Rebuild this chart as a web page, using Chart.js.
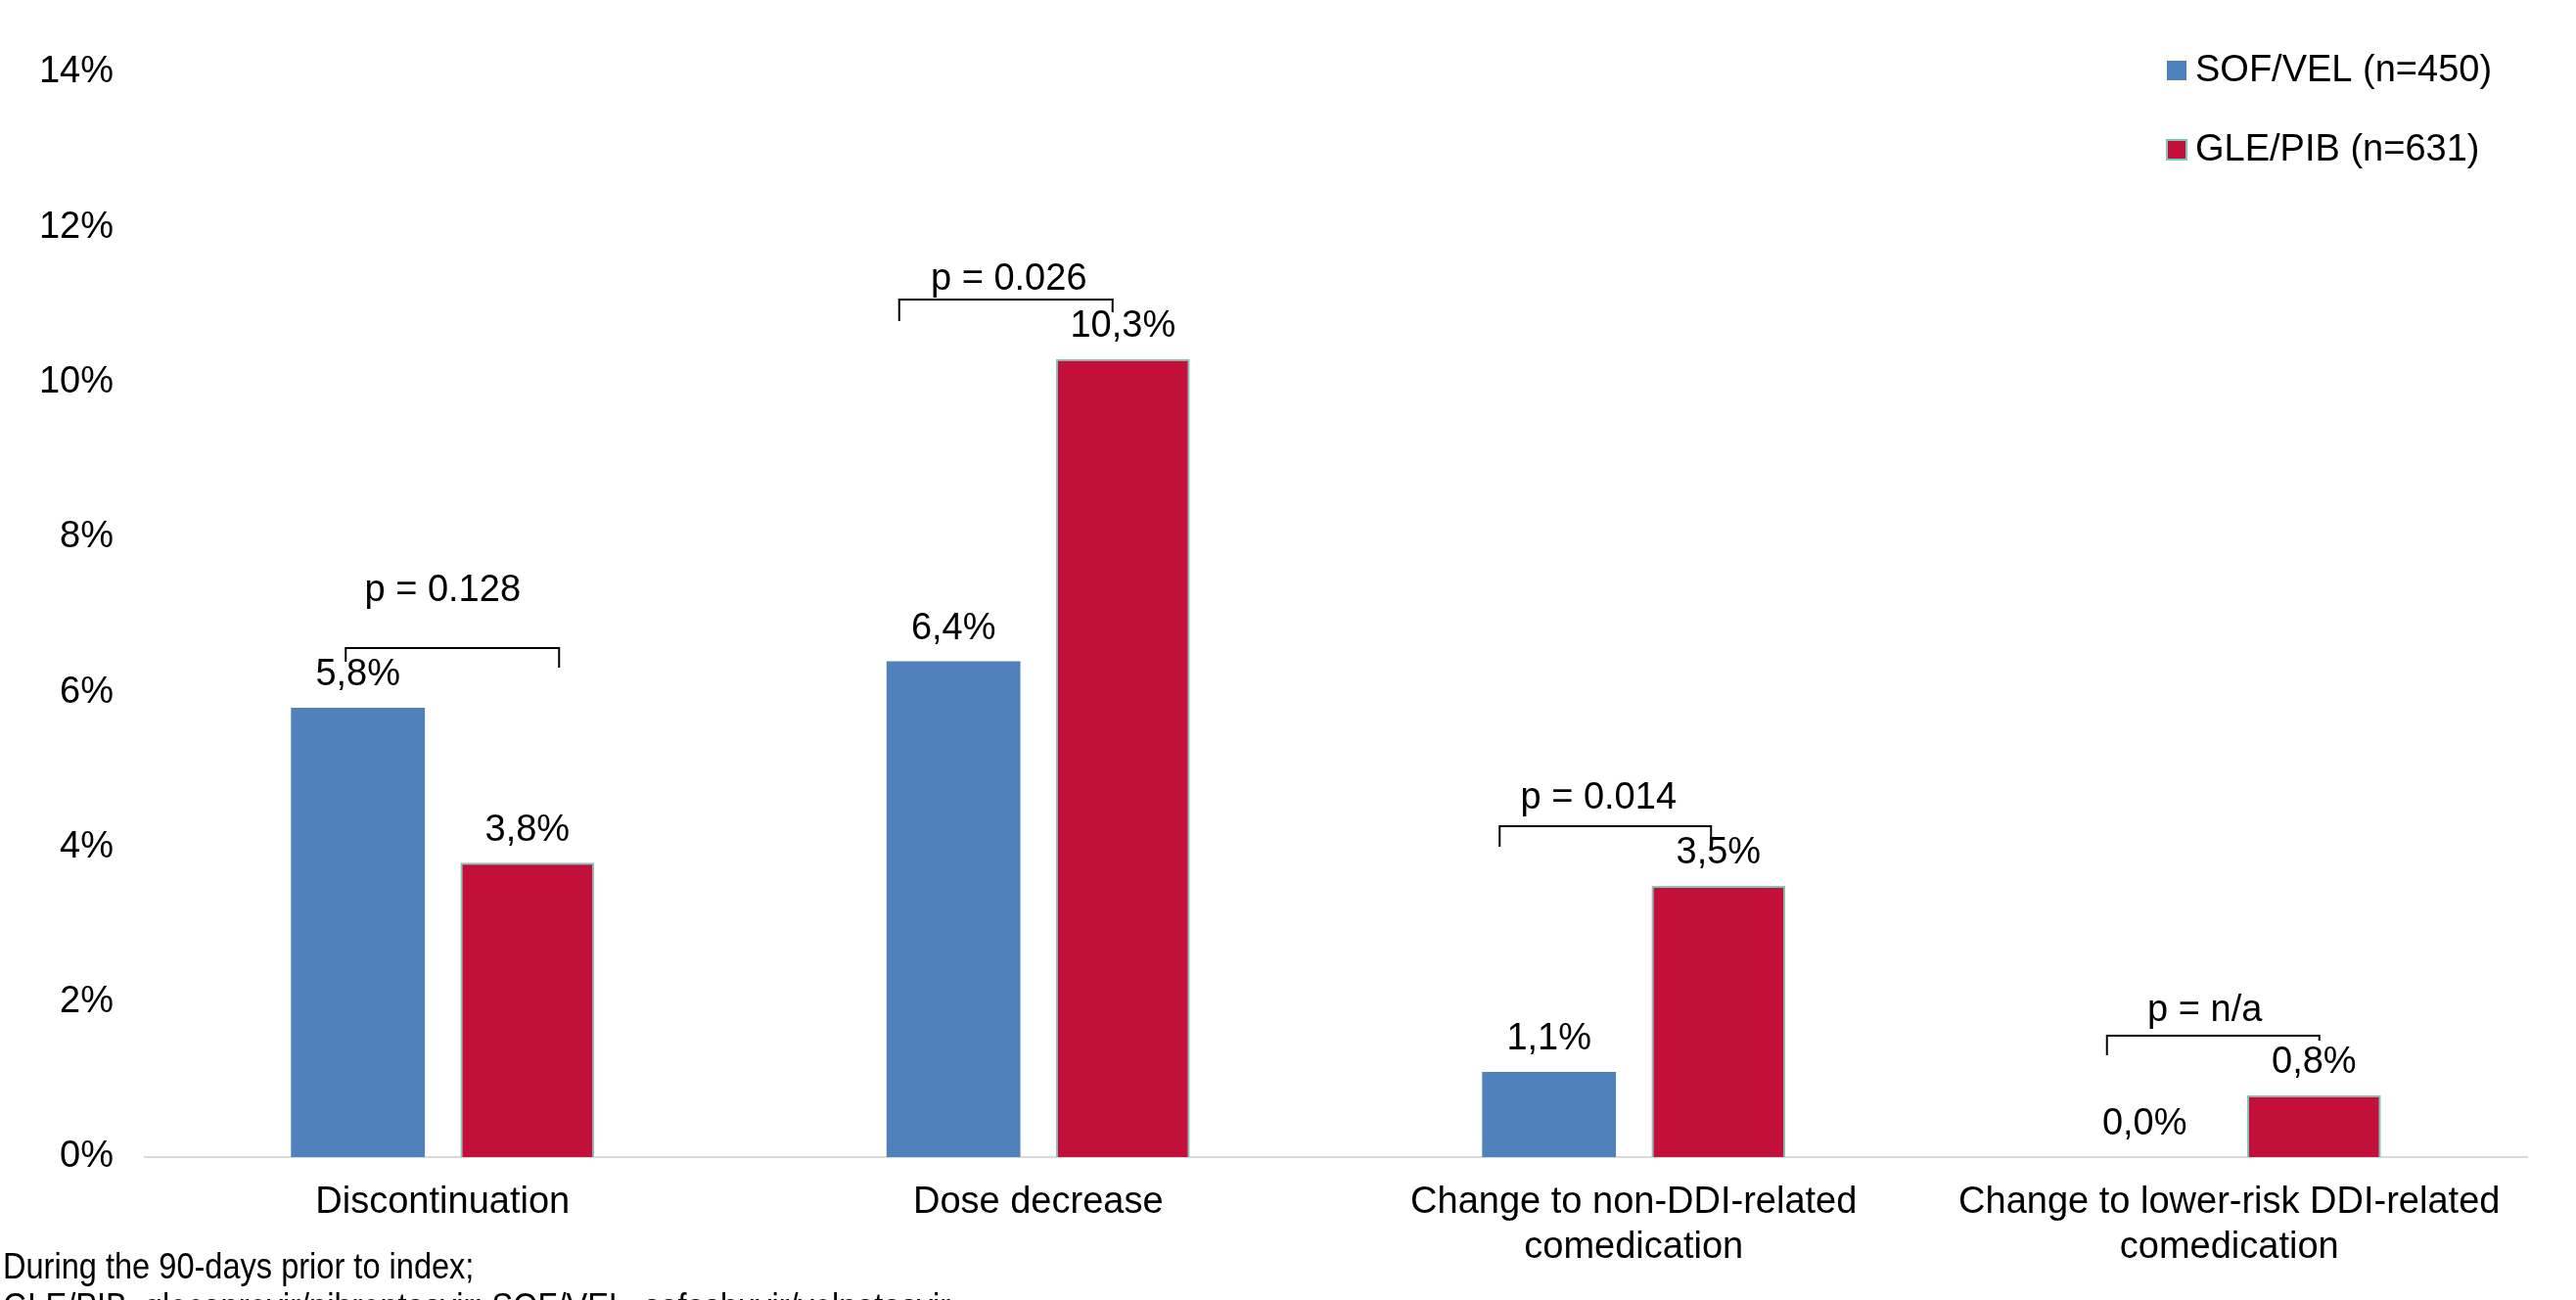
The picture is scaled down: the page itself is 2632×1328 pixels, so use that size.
<!DOCTYPE html>
<html>
<head>
<meta charset="utf-8">
<script src="https://cdn.jsdelivr.net/npm/chart.js@4.4.1/dist/chart.umd.min.js"></script>
<style>
    html, body { margin: 0; padding: 0; background: #fff; overflow: hidden; }
    #wrap { position: relative; width: 2632px; height: 1328px; }
    #footnote {
        position: absolute; left: 3px; top: 1273px;
        font-family: "Liberation Sans", Arial, sans-serif;
        font-size: 37px; line-height: 41px; color: #000;
        transform: scaleX(0.88); transform-origin: left top;
        white-space: nowrap;
    }
</style>
</head>
<body>
<div id="wrap">
    <canvas id="chart" width="2632" height="1328"></canvas>
    <div id="footnote">During the 90-days prior to index;<br>GLE/PIB, glecaprevir/pibrentasvir; SOF/VEL, sofosbuvir/velpatasvir</div>
</div>
<script>
/* ---------- data ---------- */
const categories = [
    ["Discontinuation"],
    ["Dose decrease"],
    ["Change to non-DDI-related", "comedication"],
    ["Change to lower-risk DDI-related", "comedication"]
];
const seriesNames = ["SOF/VEL (n=450)", "GLE/PIB (n=631)"];
const sofVel = [5.8, 6.4, 1.1, 0.0];
const glePib = [3.8, 10.3, 3.5, 0.8];
const pValues = ["p = 0.128", "p = 0.026", "p = 0.014", "p = n/a"];
const yTicks = [0, 2, 4, 6, 8, 10, 12, 14];

/* bracket placement (px, relative to category centre / bracket line) */
const bracketLayout = [
    { left: -99,  right: 119, dropL: 14, dropR: 20, textX: 0,   textUp: 58 },
    { left: -142, right: 76,  dropL: 22, dropR: 13, textX: -30, textUp: 20 },
    { left: -137, right: 79,  dropL: 21, dropR: 15, textX: -36, textUp: 28 },
    { left: -125, right: 92,  dropL: 20, dropR: 5,  textX: -25, textUp: 25 }
];

const FONT = '"Liberation Sans", Arial, sans-serif';
Chart.defaults.font.family = FONT;
Chart.defaults.font.size = 38;
Chart.defaults.color = "#000";

function formatPct(v) {
    return v.toFixed(1).replace(".", ",") + "%";
}

const valueLabels = {
    id: "valueLabels",
    afterDatasetsDraw(chart) {
        const ctx = chart.ctx;
        ctx.save();
        ctx.font = "38px " + FONT;
        ctx.fillStyle = "#000";
        ctx.textAlign = "center";
        ctx.textBaseline = "middle";
        chart.data.datasets.forEach((ds, i) => {
            chart.getDatasetMeta(i).data.forEach((bar, j) => {
                ctx.fillText(formatPct(ds.data[j]), bar.x, bar.y - 33);
            });
        });
        ctx.restore();
    }
};

const brackets = {
    id: "brackets",
    afterDatasetsDraw(chart) {
        const ctx = chart.ctx;
        const x = chart.scales.x;
        const y = chart.scales.y;
        ctx.save();
        ctx.strokeStyle = "#000";
        ctx.lineWidth = 2;
        ctx.font = "38px " + FONT;
        ctx.fillStyle = "#000";
        ctx.textAlign = "center";
        ctx.textBaseline = "middle";
        pValues.forEach((txt, i) => {
            const b = bracketLayout[i];
            const cx = x.getPixelForValue(i);
            const top = Math.max(sofVel[i], glePib[i]);
            const ly = Math.round(y.getPixelForValue(top)) - 61;
            ctx.beginPath();
            ctx.moveTo(cx + b.left, ly + b.dropL);
            ctx.lineTo(cx + b.left, ly);
            ctx.lineTo(cx + b.right, ly);
            ctx.lineTo(cx + b.right, ly + b.dropR);
            ctx.stroke();
            ctx.fillText(txt, cx + b.textX, ly - b.textUp);
        });
        ctx.restore();
    }
};

const cornerLegend = {
    id: "cornerLegend",
    afterDraw(chart) {
        const ctx = chart.ctx;
        ctx.save();
        ctx.font = "38px " + FONT;
        ctx.textAlign = "left";
        ctx.textBaseline = "middle";
        chart.data.datasets.forEach((ds, i) => {
            const cy = 72 + i * 81;
            ctx.fillStyle = ds.backgroundColor;
            ctx.fillRect(2214, cy - 10, 20, 20);
            if (ds.borderWidth) {
                ctx.strokeStyle = ds.borderColor;
                ctx.lineWidth = 2;
                ctx.strokeRect(2214, cy - 10, 20, 20);
            }
            ctx.fillStyle = "#000";
            ctx.fillText(ds.label, 2243, cy + 1);
        });
        ctx.restore();
    }
};

new Chart(document.getElementById("chart").getContext("2d"), {
    type: "bar",
    data: {
        labels: categories,
        datasets: [
            {
                label: seriesNames[0],
                data: sofVel,
                backgroundColor: "#4F81BD",
                borderWidth: 0
            },
            {
                label: seriesNames[1],
                data: glePib,
                backgroundColor: "#C3103A",
                borderColor: "#7CC7B9",
                borderWidth: 2
            }
        ]
    },
    options: {
        responsive: false,
        animation: false,
        categoryPercentage: 0.569,
        barPercentage: 0.79,
        layout: {
            padding: { top: 74, right: 50, bottom: 0, left: 0 }
        },
        plugins: {
            legend: { display: false },
            tooltip: { enabled: false }
        },
        scales: {
            y: {
                min: 0,
                max: 14,
                afterBuildTicks(scale) {
                    scale.ticks = yTicks.map(v => ({ value: v }));
                },
                afterFit(scale) {
                    scale.width = 148;
                },
                grid: { display: false, drawTicks: false },
                border: { display: false },
                ticks: {
                    padding: 32,
                    callback(value) {
                        return value + "%";
                    }
                }
            },
            x: {
                afterFit(scale) {
                    scale.height = 146;
                },
                grid: { display: false, drawTicks: false },
                border: { display: true, color: "#D9D9D9", width: 2 },
                ticks: {
                    padding: 24,
                    maxRotation: 0,
                    autoSkip: false
                }
            }
        }
    },
    plugins: [valueLabels, brackets, cornerLegend]
});
</script>
</body>
</html>
